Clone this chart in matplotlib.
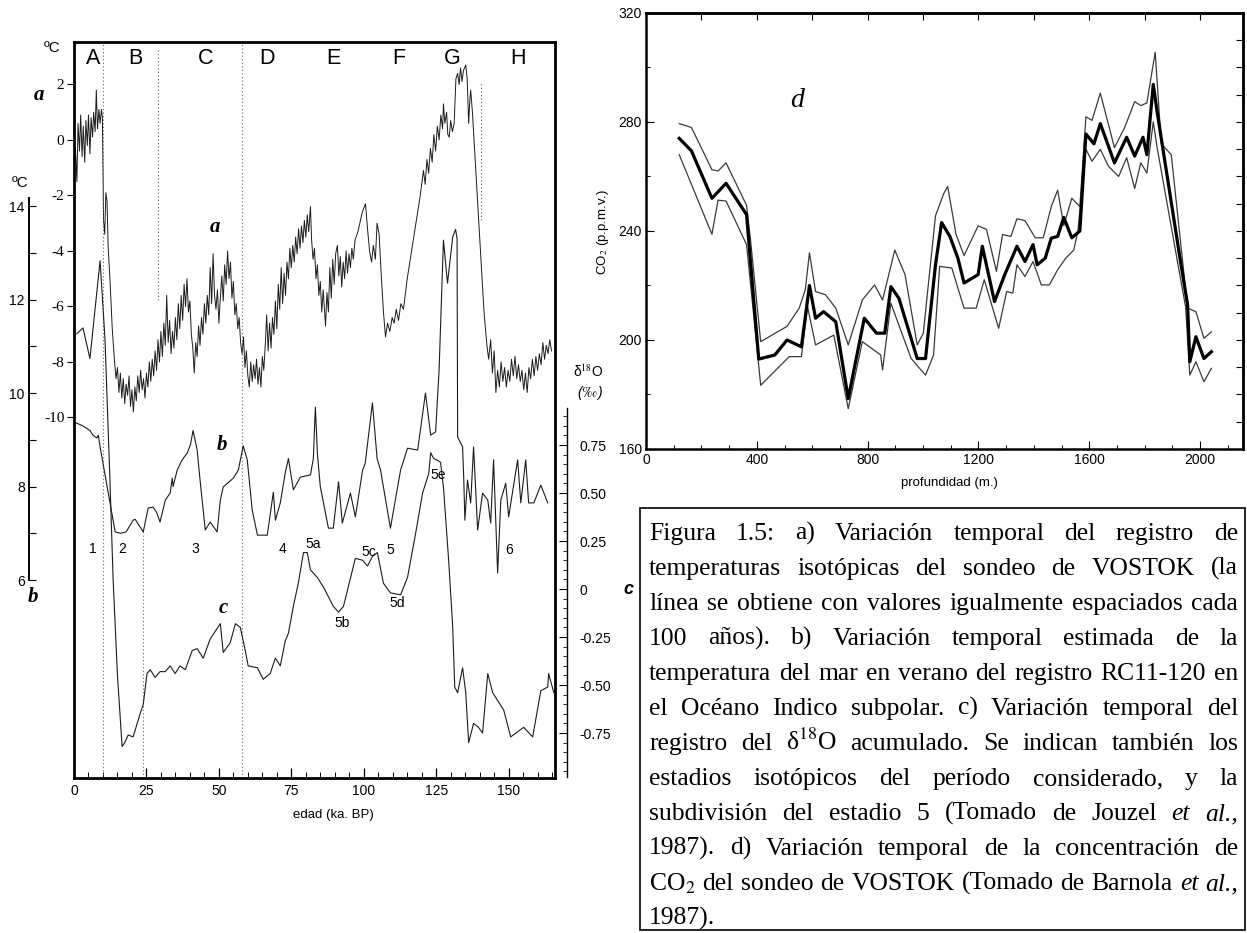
#
# Vostok / RC11-120 / SPECMAP panel plus CO2 panel and caption
#
import numpy as np
import matplotlib
matplotlib.use('Agg')
import matplotlib.pyplot as plt
from matplotlib.patches import Rectangle
from matplotlib.ticker import MultipleLocator, FixedLocator, FuncFormatter

plt.rcParams['axes.unicode_minus'] = False
plt.rcParams['mathtext.fontset'] = 'stix'
SANS = 'Liberation Sans'
SERIF = 'Liberation Serif'

# ----------------------------------------------------
# a) Vostok isotopic temperature (age ka, deg C)
a_pts = [(0.5, -0.3), (1.0, -1.5), (1.4, 0.6), (1.9, -0.4), (2.3, 0.9), (2.8, -0.6), (3.2, 0.5),
         (3.7, -0.8), (4.1, 0.7), (4.6, -0.2), (5.0, 0.9), (5.5, -0.5), (5.9, 0.8), (6.4, 0.1),
         (6.8, 1.0), (7.3, 0.3), (7.7, 1.8), (8.1, 0.4), (8.6, 1.1), (9.0, 0.6), (9.5, 1.1),
         (9.8, 0.8), (10.2, -2.9), (10.6, -3.4), (11.0, -1.9), (11.4, -2.2), (11.8, -3.9),
         (12.4, -5.0), (13.2, -6.8), (14.0, -8.0), (14.5, -8.6), (15.0, -8.2), (15.5, -9.1),
         (16.0, -8.4), (16.5, -9.3), (17.0, -8.6), (17.5, -9.5), (18.0, -8.8), (18.5, -9.2),
         (19.0, -8.5), (19.5, -9.6), (20.0, -9.0), (20.5, -9.8), (21.0, -8.9), (21.5, -9.4),
         (22.0, -8.5), (22.5, -9.1), (23.0, -8.3), (23.5, -9.0), (24.0, -8.6), (24.5, -9.3),
         (25.0, -8.4), (25.5, -8.9), (26.0, -8.0), (26.5, -8.7), (27.0, -7.9), (27.5, -8.5),
         (28.0, -7.6), (28.5, -8.3), (29.0, -7.2), (29.5, -8.0), (30.0, -6.9), (30.5, -7.8),
         (31.0, -6.6), (31.5, -7.4), (32.0, -5.6), (32.5, -7.3), (33.0, -6.5), (33.5, -7.7),
         (34.0, -6.9), (34.5, -7.5), (35.0, -6.4), (35.5, -7.2), (36.0, -5.9), (36.5, -6.8),
         (37.0, -5.6), (37.5, -6.5), (38.0, -5.2), (38.5, -6.0), (39.0, -5.0), (39.5, -6.2),
         (40.0, -5.8), (40.5, -7.0), (41.0, -7.5), (41.5, -8.4), (42.0, -7.3), (42.5, -7.8),
         (43.0, -6.7), (43.5, -7.4), (44.0, -6.4), (44.5, -7.0), (45.0, -5.9), (45.5, -6.6),
         (46.0, -5.6), (46.5, -6.3), (47.0, -4.6), (47.5, -5.9), (48.0, -4.1), (48.5, -5.6),
         (49.0, -6.1), (49.5, -5.4), (50.0, -6.6), (50.5, -5.7), (51.0, -4.9), (51.5, -5.8),
         (52.0, -4.5), (52.5, -5.2), (53.0, -4.0), (53.5, -5.0), (54.0, -4.4), (54.5, -5.7),
         (55.0, -5.1), (55.5, -6.3), (56.0, -5.9), (56.5, -6.8), (57.0, -6.4), (57.5, -7.3),
         (58.0, -7.7), (58.5, -7.1), (59.0, -8.2), (59.5, -7.6), (60.0, -8.5), (60.5, -8.9),
         (61.0, -8.0), (61.5, -8.7), (62.0, -8.1), (62.5, -8.6), (63.0, -7.9), (63.5, -8.8),
         (64.0, -8.2), (64.5, -8.9), (65.0, -7.8), (65.5, -8.3), (66.0, -7.4), (66.5, -6.3),
         (67.0, -7.6), (67.5, -6.6), (68.0, -7.5), (68.5, -6.4), (69.0, -7.0), (69.5, -5.8),
         (70.0, -6.8), (70.5, -5.2), (71.0, -6.1), (71.5, -4.6), (72.0, -5.9), (72.5, -4.8),
         (73.0, -5.6), (73.5, -4.4), (74.0, -5.0), (74.5, -3.9), (75.0, -4.6), (75.5, -3.8),
         (76.0, -4.4), (76.5, -3.5), (77.0, -4.1), (77.5, -3.2), (78.0, -3.9), (78.5, -3.1),
         (79.0, -3.7), (79.5, -2.9), (80.0, -3.5), (80.5, -2.7), (81.0, -3.3), (81.6, -2.4),
         (82.0, -3.6), (82.5, -4.3), (83.0, -3.9), (83.5, -5.0), (84.0, -4.5), (84.5, -5.6),
         (85.0, -5.1), (85.5, -6.2), (86.0, -5.4), (86.8, -6.7), (87.3, -5.5), (87.8, -6.2),
         (88.3, -4.6), (88.8, -5.7), (89.3, -4.3), (89.8, -5.2), (90.3, -4.1), (90.9, -3.8),
         (91.4, -4.9), (91.9, -4.2), (92.4, -5.3), (92.9, -4.4), (93.4, -5.0), (93.9, -4.0),
         (94.4, -4.8), (94.9, -4.1), (95.4, -4.6), (95.9, -3.9), (96.4, -4.3), (97.0, -3.6),
         (98.0, -3.3), (99.5, -2.6), (100.6, -2.3), (101.3, -3.2), (102.0, -4.0), (102.7, -4.4),
         (103.3, -3.8), (104.0, -4.3), (104.6, -3.0), (105.3, -3.4), (106.0, -4.8), (106.8, -6.2),
         (107.5, -7.1), (108.2, -6.6), (109.0, -6.9), (109.8, -6.4), (110.5, -6.6), (111.2, -6.1),
         (112.0, -6.5), (112.8, -5.9), (113.7, -6.1), (115.0, -5.0), (116.5, -4.0), (118.0, -3.0),
         (119.5, -2.0), (120.6, -1.1), (121.2, -1.6), (121.8, -0.7), (122.4, -1.2), (123.0, -0.3),
         (123.6, -0.8), (124.2, 0.2), (124.8, -0.4), (125.4, 0.5), (126.0, 0.0), (126.6, 0.9),
         (127.2, 0.4), (127.5, 1.3), (128.0, 0.6), (128.6, 1.0), (129.0, 0.2), (129.5, 0.1),
         (130.0, 0.7), (130.6, 0.3), (131.2, 0.6), (131.8, 2.2), (132.4, 2.4), (132.9, 2.0),
         (133.4, 2.6), (133.9, 2.1), (134.4, 2.5), (135.2, 2.7), (135.7, 2.2), (136.2, 0.6),
         (136.6, 1.4), (136.9, 1.8), (137.5, 1.0), (138.5, -0.8), (139.5, -2.6), (140.5, -4.4),
         (141.5, -6.2), (142.5, -7.4), (143.1, -7.9), (143.8, -7.2), (144.4, -8.4), (145.0, -7.6),
         (145.6, -9.1), (146.2, -8.3), (146.8, -8.9), (147.4, -8.0), (148.0, -8.7), (148.6, -8.2),
         (149.2, -8.9), (149.8, -8.3), (150.4, -8.7), (151.0, -7.9), (151.6, -8.5), (152.2, -7.8),
         (152.8, -8.6), (153.4, -8.1), (154.0, -8.7), (154.6, -8.3), (155.2, -9.0), (155.8, -8.4),
         (156.4, -9.1), (157.0, -8.2), (157.6, -8.6), (158.2, -7.9), (158.8, -8.5), (159.4, -7.8),
         (160.0, -8.3), (160.6, -7.7), (161.2, -8.1), (161.8, -7.3), (162.4, -7.9), (163.0, -7.4),
         (163.6, -7.7), (164.2, -7.2), (164.8, -7.6)]

# b) RC11-120 summer sea temperature (age ka, deg C)
b_pts = [(0.8, 9.36), (3.0, 9.3), (5.5, 9.2), (6.5, 9.1), (7.9, 9.04), (8.4, 9.1), (9.0, 8.85),
         (14.2, 7.03), (16.0, 7.0), (18.0, 7.03), (20.4, 7.28), (21.1, 7.3), (23.9, 7.03),
         (25.6, 7.54), (27.3, 7.56), (28.5, 7.45), (29.7, 7.24), (31.5, 7.71), (33.2, 7.86),
         (33.9, 8.18), (34.2, 8.0), (35.6, 8.35), (37.3, 8.57), (39.1, 8.72), (40.2, 8.9),
         (41.1, 9.2), (42.5, 8.78), (43.5, 8.14), (45.3, 7.07), (47.0, 7.24), (49.4, 7.03),
         (50.5, 7.71), (51.5, 7.99), (55.0, 8.18), (56.7, 8.35), (58.4, 8.87), (59.8, 8.57),
         (61.5, 7.5), (63.3, 6.96), (66.7, 6.96), (68.8, 7.88), (69.5, 7.28), (71.2, 7.65),
         (72.9, 8.29), (74.0, 8.6), (75.7, 7.93), (78.1, 8.2), (81.6, 8.25), (82.6, 8.6),
         (83.3, 9.7), (84.0, 8.7), (85.0, 8.0), (87.8, 7.11), (89.5, 7.11), (91.3, 8.1),
         (92.6, 7.22), (95.4, 7.86), (97.1, 7.35), (99.6, 8.35), (100.5, 8.5), (103.0, 9.79),
         (104.6, 8.6), (105.8, 8.35), (109.2, 7.11), (112.7, 8.35), (115.1, 8.82), (118.6, 8.78),
         (121.3, 10.0), (123.1, 9.1), (124.8, 9.17), (126.0, 10.5), (127.5, 13.27), (128.9, 12.35),
         (130.7, 13.34), (131.7, 13.5), (132.2, 13.3), (132.4, 9.06), (134.1, 8.85), (134.5, 8.18),
         (134.9, 7.28), (135.8, 8.14), (136.9, 7.65), (137.9, 8.85), (139.3, 7.07), (141.0, 7.86),
         (142.8, 7.71), (143.8, 7.22), (144.8, 8.57), (146.2, 6.15), (147.3, 7.71), (149.0, 8.07),
         (150.0, 7.35), (153.1, 8.57), (154.2, 7.65), (155.9, 8.57), (156.9, 7.65), (158.7, 7.65),
         (161.1, 8.03), (163.5, 7.65)]

# c) accumulated d18O (age ka, permil)
c_pts = [(1.0, 1.33), (3.1, 1.36), (5.5, 1.20), (9.0, 1.71), (10.7, 1.30), (12.4, 0.57),
         (13.5, 0.05), (15.0, -0.45), (16.6, -0.82), (17.5, -0.80), (18.7, -0.76), (20.4, -0.77),
         (21.8, -0.70), (22.8, -0.65), (23.9, -0.60), (25.2, -0.44), (26.3, -0.42), (28.0, -0.46),
         (29.7, -0.43), (31.5, -0.43), (33.2, -0.40), (34.9, -0.44), (36.6, -0.40), (38.4, -0.42),
         (40.8, -0.32), (42.5, -0.31), (44.6, -0.36), (47.0, -0.26), (50.5, -0.18), (51.5, -0.33),
         (53.9, -0.28), (55.7, -0.18), (57.4, -0.20), (59.1, -0.32), (60.1, -0.40), (63.3, -0.41),
         (65.3, -0.47), (67.7, -0.44), (69.5, -0.36), (71.2, -0.40), (72.9, -0.27), (74.0, -0.23),
         (75.7, -0.09), (77.4, 0.03), (79.2, 0.19), (80.5, 0.19), (81.6, 0.10), (84.0, 0.06),
         (86.1, 0.01), (89.5, -0.09), (91.3, -0.12), (93.0, -0.09), (97.1, 0.16), (99.6, 0.15),
         (101.3, 0.12), (103.0, 0.17), (104.7, 0.19), (106.8, 0.03), (109.2, -0.02), (112.7, -0.03),
         (115.1, 0.06), (117.9, 0.29), (120.3, 0.50), (122.4, 0.60), (123.1, 0.71), (124.1, 0.68),
         (125.5, 0.67), (126.5, 0.66), (127.5, 0.53), (129.3, 0.15), (130.7, -0.20), (131.4, -0.51),
         (132.4, -0.54), (134.1, -0.41), (135.2, -0.54), (136.2, -0.80), (137.9, -0.70),
         (139.6, -0.72), (141.0, -0.75), (142.8, -0.44), (144.5, -0.54), (148.3, -0.63),
         (150.7, -0.77), (155.2, -0.72), (158.3, -0.77), (161.1, -0.53), (163.5, -0.51),
         (163.8, -0.44), (165.6, -0.54)]

# d) Vostok CO2 (depth m, ppmv): central curve and envelope
d_mid = [(120, 274), (164, 269.4), (238, 252), (289, 257.5), (363, 246), (370, 237.4), (407, 193),
         (465, 194.5), (509, 200), (561, 197.5), (590, 220), (612, 208), (641, 210.4), (685, 206.7),
         (730, 178.5), (788, 208), (832, 202.5), (862, 202.5), (884, 219.6), (913, 215.3),
         (979, 193.2), (1009, 193.2), (1045, 227.6), (1067, 243.1), (1097, 238), (1126, 230),
         (1148, 220.9), (1199, 224), (1214, 234.4), (1258, 214.1), (1295, 224), (1339, 234.4),
         (1368, 228.8), (1397, 235), (1412, 227.6), (1441, 230), (1463, 237.4), (1486, 238),
         (1508, 245), (1537, 237.5), (1566, 240), (1588, 275.6), (1617, 272), (1640, 279.4),
         (1691, 265), (1735, 274.4), (1764, 267.5), (1794, 274.4), (1808, 268), (1831, 293.8),
         (1845, 283.8), (1926, 231), (1955, 212.9), (1963, 192), (1985, 201.2), (2014, 193.2),
         (2041, 195.7)]
d_hi = [(120, 279.4), (164, 278), (238, 262.5), (260, 262), (289, 265), (363, 249.4), (377, 237),
        (414, 199.4), (509, 205), (553, 211.7), (575, 218.4), (590, 232), (612, 217.8), (648, 216.6),
        (685, 211.7), (730, 198.2), (781, 214.7), (825, 220.2), (854, 214.7), (898, 233), (935, 224),
        (979, 198.2), (1001, 202.5), (1045, 245.6), (1075, 253.8), (1089, 256.3), (1119, 238.8),
        (1148, 231), (1199, 241.9), (1229, 240.6), (1265, 225.2), (1287, 238.7), (1317, 238),
        (1339, 244.5), (1368, 243.8), (1405, 237.5), (1434, 237.5), (1463, 249), (1486, 255),
        (1508, 242), (1537, 252), (1566, 249), (1588, 281.9), (1610, 280.6), (1640, 290.6),
        (1691, 270.6), (1728, 278), (1764, 287.5), (1786, 286), (1808, 287), (1838, 305.6),
        (1860, 272), (1896, 268), (1955, 211.7), (1985, 210.4), (2014, 200.6), (2041, 203)]
d_lo = [(120, 268), (238, 238.8), (260, 251.3), (289, 251), (363, 235), (414, 183.4), (517, 193.9),
        (561, 193.9), (583, 212.3), (612, 198.2), (678, 201.8), (730, 174.8), (781, 199.4),
        (847, 194.5), (854, 189), (884, 213.5), (957, 193.2), (1009, 187.1), (1038, 194.5),
        (1060, 227), (1104, 226.4), (1148, 211.7), (1192, 211.7), (1221, 222.1), (1273, 204.3),
        (1302, 217.8), (1324, 217.2), (1339, 227.6), (1368, 223.3), (1397, 228.8), (1427, 220.2),
        (1456, 220.2), (1486, 225.8), (1515, 230), (1544, 233), (1559, 240), (1588, 270),
        (1610, 265.6), (1640, 270), (1669, 263.8), (1706, 260), (1735, 266.9), (1764, 255.6),
        (1786, 265), (1808, 261.3), (1831, 280), (1845, 270.6), (1948, 212), (1963, 187.1),
        (1985, 192), (2014, 184.7), (2041, 189.6)]

# zone letters and isotopic stage labels
zone_labels = ['A', 'B', 'C', 'D', 'E', 'F', 'G', 'H']
zone_age = [6.6, 21.1, 45.3, 66.7, 89.5, 112.0, 130.7, 153.1]
stage_labels = ['1', '2', '3', '4', '5a', '5b', '5c', '5', '5d', '5e', '6']
stage_age = [6.6, 16.6, 41.8, 71.9, 82.6, 92.6, 101.6, 109.2, 111.6, 125.8, 150.0]
stage_val = [0.21, 0.21, 0.21, 0.21, 0.234, -0.177, 0.193, 0.203, -0.073, 0.594, 0.203]

caption_lines = [
    'Figura 1.5: a) Variación temporal del registro de',
    'temperaturas isotópicas del sondeo de VOSTOK (la',
    'línea se obtiene con valores igualmente espaciados cada',
    '100 años). b) Variación temporal estimada de la',
    'temperatura del mar en verano del registro RC11-120 en',
    'el Océano Indico subpolar. c) Variación temporal del',
    'registro del δ$^{18}$O acumulado. Se indican también los',
    'estadios isotópicos del período considerado, y la',
    'subdivisión del estadio 5 (Tomado de Jouzel _et _al.,',
    '1987). d) Variación temporal de la concentración de',
    'CO$_{2}$ del sondeo de VOSTOK (Tomado de Barnola _et _al.,',
    '1987).',
]

# ----------------------------------------------------
W, H = 1247, 933
fig = plt.figure(figsize=(W / 100, H / 100), dpi=100)


def box(x0, y0, x1, y1):
    return [x0 / W, 1 - y1 / H, (x1 - x0) / W, (y1 - y0) / H]


def ftext(x, y, s, **kw):
    return fig.text(x / W, 1 - y / H, s, **kw)


a_age, a_temp = zip(*a_pts)
b_age, b_temp = zip(*b_pts)
c_age, c_val = zip(*c_pts)

# --- left panel, curve a owns the frame
ax_a = fig.add_axes(box(74, 42, 555, 778))
ax_a.set_xlim(0, 166)
ax_a.set_ylim(-22.99, 3.53)
for sp in ax_a.spines.values():
    sp.set_linewidth(2.0)
ax_a.set_yticks([2, 0, -2, -4, -6, -8, -10])
ax_a.set_yticklabels(['2', '0', '-2', '-4', '-6', '-8', '-10'])
ax_a.tick_params(axis='y', direction='out', length=5, width=0.8, pad=2,
                 labelsize=11, labelfontfamily=SERIF)
ax_a.xaxis.set_minor_locator(MultipleLocator(5))
ax_a.set_xticks(range(0, 151, 25))
ax_a.tick_params(axis='x', which='major', direction='in', length=7, width=0.9,
                 labelsize=10, labelfontfamily=SANS, pad=4)
ax_a.tick_params(axis='x', which='minor', direction='in', length=4, width=0.7)
ax_a.plot(a_age, a_temp, color='#1c1c1c', lw=0.7)

dot = dict(color='#666666', lw=0.8, ls=(0, (1, 2.2)))
ax_a.axvline(10.0, 0, 1, **dot)
ax_a.axvline(29.0, 0.649, 0.989, **dot)
ax_a.axvline(23.9, 0, 0.337, **dot)
ax_a.axvline(58.0, 0, 1, **dot)
ax_a.axvline(140.3, 0.758, 0.946, **dot)

for lab, xa in zip(zone_labels, zone_age):
    ax_a.text(xa, 0.978, lab, transform=ax_a.get_xaxis_transform(), ha='center',
              va='center', fontsize=15.5, family=SANS)
ax_a.text(48.7, -3.14, 'a', fontsize=15, family=SERIF, style='italic',
          fontweight='bold', ha='center', va='center')

# --- curve b, own axis at far left
ax_b = fig.add_axes(box(74, 42, 555, 778), sharex=ax_a)
ax_b.patch.set_visible(False)
ax_b.set_ylim(1.765, 17.51)
for k in ['top', 'right', 'bottom']:
    ax_b.spines[k].set_visible(False)
ax_b.spines['left'].set_position(('outward', 45 * 0.72))
ax_b.spines['left'].set_bounds(6, 14.17)
ax_b.spines['left'].set_linewidth(1.4)
ax_b.set_yticks([6, 8, 10, 12, 14])
ax_b.yaxis.set_minor_locator(FixedLocator([7, 9, 11, 13]))
ax_b.tick_params(axis='y', which='both', direction='in', length=5, width=0.8, pad=3,
                 labelsize=10, labelfontfamily=SANS)
ax_b.tick_params(axis='x', which='both', bottom=False, top=False, labelbottom=False)
ax_b.plot(b_age, b_temp, color='#1c1c1c', lw=0.8)
ax_b.text(51.2, 8.89, 'b', fontsize=15, family=SERIF, style='italic',
          fontweight='bold', ha='center', va='center')

# --- curve c, own axis at right
ax_c = fig.add_axes(box(74, 42, 555, 778), sharex=ax_a)
ax_c.patch.set_visible(False)
ax_c.set_ylim(-0.984, 2.849)
for k in ['top', 'left', 'bottom']:
    ax_c.spines[k].set_visible(False)
ax_c.spines['right'].set_position(('outward', 12 * 0.72))
ax_c.spines['right'].set_bounds(-0.98, 0.943)
ax_c.spines['right'].set_linewidth(1.0)
ax_c.yaxis.tick_right()
ax_c.set_yticks([-0.75, -0.5, -0.25, 0, 0.25, 0.5, 0.75])
ax_c.yaxis.set_major_formatter(FuncFormatter(lambda v, p: '0' if abs(v) < 1e-9 else f'{v:.2f}'))
ax_c.yaxis.set_minor_locator(FixedLocator(np.arange(-0.95, 0.95, 0.05)))
ax_c.tick_params(axis='y', which='major', direction='in', length=6, width=0.8, pad=9,
                 labelsize=10, labelfontfamily=SANS)
ax_c.tick_params(axis='y', which='minor', direction='in', length=3, width=0.6)
ax_c.tick_params(axis='x', which='both', bottom=False, top=False, labelbottom=False)
ax_c.plot(c_age, c_val, color='#1c1c1c', lw=0.8)
ax_c.text(51.5, -0.10, 'c', fontsize=15, family=SERIF, style='italic',
          fontweight='bold', ha='center', va='center')
for lab, xa, yv in zip(stage_labels, stage_age, stage_val):
    ax_c.text(xa, yv, lab, fontsize=10, family=SANS, ha='center', va='center')

# outer labels of the left panel
ftext(52, 48, 'ºC', fontsize=11, family=SANS, ha='center', va='center')
ftext(20, 183, 'ºC', fontsize=11, family=SANS, ha='center', va='center')
ftext(39, 95, 'a', fontsize=15, family=SERIF, style='italic', fontweight='bold',
      ha='center', va='center')
ftext(33, 597, 'b', fontsize=15, family=SERIF, style='italic', fontweight='bold',
      ha='center', va='center')
ftext(588, 372, 'δ$^{18}$O', fontsize=10, family=SANS, ha='center', va='center')
ftext(590, 393, '($‰$)', fontsize=10, family=SANS, style='italic', ha='center', va='center')
ftext(628, 590, 'c', fontsize=13, family=SANS, style='italic', fontweight='bold',
      ha='center', va='center')
ftext(333, 815, 'edad (ka. BP)', fontsize=9.5, family=SANS, ha='center', va='center')

# --- right panel, CO2
ax_d = fig.add_axes(box(646, 13, 1243, 449))
ax_d.set_xlim(0, 2155)
ax_d.set_ylim(160, 320)
for sp in ax_d.spines.values():
    sp.set_linewidth(1.8)
ax_d.set_xticks(range(0, 2001, 400))
ax_d.xaxis.set_minor_locator(MultipleLocator(100))
ax_d.set_yticks(range(160, 321, 40))
ax_d.yaxis.set_minor_locator(MultipleLocator(20))
ax_d.tick_params(which='major', direction='in', length=6, width=0.8, labelsize=10,
                 labelfontfamily=SANS, pad=3)
ax_d.tick_params(which='minor', direction='in', length=3, width=0.7)
sec_top = ax_d.secondary_xaxis('top')
sec_top.set_xticks(range(200, 2155, 200))
sec_top.tick_params(direction='in', length=5, width=0.8, labeltop=False)
sec_top.spines['top'].set_linewidth(1.8)
sec_right = ax_d.secondary_yaxis('right')
sec_right.set_yticks(range(170, 320, 10))
sec_right.tick_params(direction='in', length=5, width=0.8, labelright=False)
sec_right.spines['right'].set_linewidth(1.8)

dx, dy = zip(*d_hi)
ax_d.plot(dx, dy, color='#3a3a3a', lw=0.9)
dx, dy = zip(*d_lo)
ax_d.plot(dx, dy, color='#3a3a3a', lw=0.9)
dx, dy = zip(*d_mid)
ax_d.plot(dx, dy, color='black', lw=2.3)
ax_d.text(547, 288, 'd', fontsize=20, family=SERIF, style='italic', ha='center', va='center')
ftext(603, 232, 'CO$_2$ (p.p.m.v.)', fontsize=9.5, family=SANS, rotation=90,
      ha='center', va='center')
ftext(949, 483, 'profundidad (m.)', fontsize=9.5, family=SANS, ha='center', va='center')

# --- caption box, justified text, font sized so the tightest line just fits
fig.add_artist(Rectangle((640 / W, 1 - 930 / H), 605 / W, 422 / H, transform=fig.transFigure,
                         fill=False, lw=1.2, ec='black'))
renderer = fig.canvas.get_renderer()
cx0, cx1 = 649, 1238


def line_words(line, fs):
    arts = []
    for w in line.split(' '):
        ital = w.startswith('_')
        arts.append(ftext(0, 0, w.lstrip('_'), fontsize=fs, family=SERIF,
                          style='italic' if ital else 'normal', va='baseline'))
    return arts


probe_fs = 10.0
natural = []
for line in caption_lines:
    arts = line_words(line, probe_fs)
    ws = [t.get_window_extent(renderer).width for t in arts]
    natural.append(sum(ws) + (len(ws) - 1) * probe_fs * 1.389 * 0.25)
    for t in arts:
        t.remove()
cap_fs = probe_fs * (cx1 - cx0) / max(natural) * 0.995

for i, line in enumerate(caption_lines):
    ybase = 540 + i * 35.0
    arts = line_words(line, cap_fs)
    widths = [t.get_window_extent(renderer).width for t in arts]
    if i == len(caption_lines) - 1 or len(arts) < 2:
        gap = cap_fs * 1.389 * 0.25
    else:
        gap = (cx1 - cx0 - sum(widths)) / (len(arts) - 1)
    x = cx0
    for t, w in zip(arts, widths):
        t.set_position((x / W, 1 - ybase / H))
        x += w + gap

fig.savefig('out.png', dpi=100)
